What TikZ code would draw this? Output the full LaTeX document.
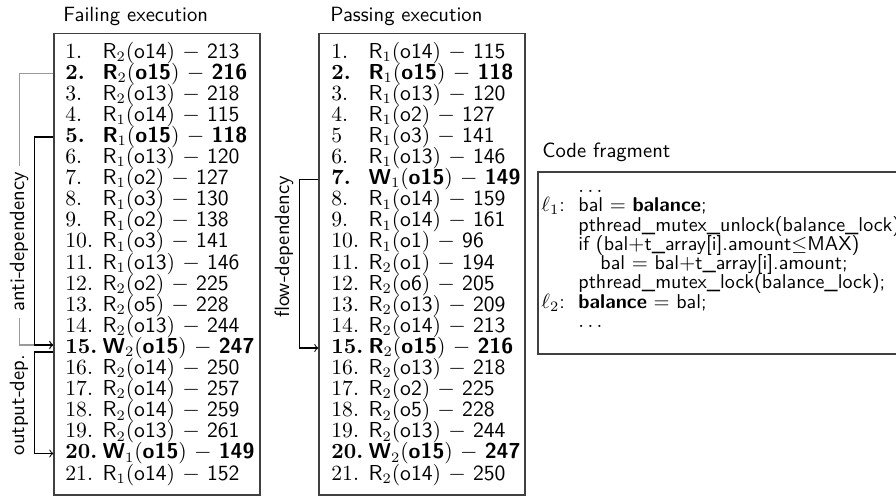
\documentclass[tikz,border=0pt]{standalone}
\usetikzlibrary{calc}

% one line of a trace: number, op, thread, object, value, weight
\newcommand{\evrow}[6]{\makebox[18pt][l]{#6#1}{\sffamily#6#2}$_{#3}$(\textsf{#6#4}) $-$ {\sffamily#6#5}}
\def\px{0.485pt}

\begin{document}
\begin{tikzpicture}[x=\px, y=-\px,
    listbox/.style={draw=black!75, line width=0.6pt},
    rowtext/.style={anchor=base west, inner sep=0pt, font=\fontsize{10.5pt}{12pt}\selectfont},
    headline/.style={anchor=base west, inner sep=0pt, font=\sffamily},
    code/.style={anchor=base west, inner sep=0pt, font=\fontsize{9.7pt}{11pt}\sffamily},
    dep/.style={draw=black, line width=0.5pt},
    antidep/.style={draw=black!40, line width=0.6pt},
    deplabel/.style={rotate=90, font=\sffamily, inner xsep=3pt, inner ysep=1pt}]
  \useasboundingbox (0,0) rectangle (896,498);

  % Failing execution
  \node[headline] (failtitle) at (63,21) {Failing execution};
  \node[listbox, minimum width=206*\px, minimum height=461.5*\px] (failbox) at (157,264.25) {};
  \foreach \nr/\op/\thr/\obj/\val/\fs [count=\i] in {
      1./R/2/o14/213/\mdseries, 2./R/2/o15/216/\bfseries, 3./R/2/o13/218/\mdseries,
      4./R/1/o14/115/\mdseries, 5./R/1/o15/118/\bfseries, 6./R/1/o13/120/\mdseries,
      7./R/1/o2/127/\mdseries, 8./R/1/o3/130/\mdseries, 9./R/1/o2/138/\mdseries,
      10./R/1/o3/141/\mdseries, 11./R/1/o13/146/\mdseries, 12./R/2/o2/225/\mdseries,
      13./R/2/o5/228/\mdseries, 14./R/2/o13/244/\mdseries, 15./W/2/o15/247/\bfseries,
      16./R/2/o14/250/\mdseries, 17./R/2/o14/257/\mdseries, 18./R/2/o14/259/\mdseries,
      19./R/2/o13/261/\mdseries, 20./W/1/o15/149/\bfseries, 21./R/1/o14/152/\mdseries}
    \node[rowtext] (f\i) at (65,{58+21.1*(\i-1)}) {\evrow{\nr}{\op}{\thr}{\obj}{\val}{\fs}};

  % Passing execution
  \node[headline] (passtitle) at (330,21) {Passing execution};
  \node[listbox, minimum width=206*\px, minimum height=461.5*\px] (passbox) at (422,264.25) {};
  \foreach \nr/\op/\thr/\obj/\val/\fs [count=\i] in {
      1./R/1/o14/115/\mdseries, 2./R/1/o15/118/\bfseries, 3./R/1/o13/120/\mdseries,
      4./R/1/o2/127/\mdseries, 5/R/1/o3/141/\mdseries, 6./R/1/o13/146/\mdseries,
      7./W/1/o15/149/\bfseries, 8./R/1/o14/159/\mdseries, 9./R/1/o14/161/\mdseries,
      10./R/1/o1/96/\mdseries, 11./R/2/o1/194/\mdseries, 12./R/2/o6/205/\mdseries,
      13./R/2/o13/209/\mdseries, 14./R/2/o14/213/\mdseries, 15./R/2/o15/216/\bfseries,
      16./R/2/o13/218/\mdseries, 17./R/2/o2/225/\mdseries, 18./R/2/o5/228/\mdseries,
      19./R/2/o13/244/\mdseries, 20./W/2/o15/247/\bfseries, 21./R/2/o14/250/\mdseries}
    \node[rowtext] (p\i) at (331,{58+21.1*(\i-1)}) {\evrow{\nr}{\op}{\thr}{\obj}{\val}{\fs}};

  % anti-dependency (grey line broken by its label)
  \draw[antidep, ->] (failbox.west |- f2) -- ++(-34,0) |- ($(failbox.west |- f15)+(0,-3)$);
  \node[deplabel, fill=white] (antilbl) at (19,242) {anti-dependency};
  \draw[dep, ->] (failbox.west |- f5) -- ++(-19,0) |- ($(failbox.west |- f15)+(0,-3)$);

  % output-dependency
  \draw[dep, ->] ($(failbox.west |- f15)+(0,4)$) -- ++(-19,0) |- (failbox.west |- f20);
  \node[deplabel] (outlbl) at (19,405) {output-dep.};

  % flow-dependency
  \draw[dep, ->] (passbox.west |- p7) -- ++(-19,0) |- (passbox.west |- p15);
  \node[deplabel] (flowlbl) at (284,247) {flow-dependency};

  % Code fragment
  \node[headline] (codetitle) at (542,157) {Code fragment};
  \draw[listbox] (538,172) rectangle (910,354);
  \node[code] (c1) at (578,192) {$\ldots$};
  \node[code] (l1) at (541,211) {$\ell_1$:};
  \node[code] (c2) at (578,211) {bal $=$ \textbf{balance};};
  \node[code] (c3) at (578,231) {pthread\_mutex\_unlock(balance\_lock);};
  \node[code] (c4) at (578,250) {if (bal$+$t\_array[i].amount$\leq$MAX)};
  \node[code] (c5) at (600,269) {bal $=$ bal$+$t\_array[i].amount;};
  \node[code] (c6) at (578,288) {pthread\_mutex\_lock(balance\_lock);};
  \node[code] (l2) at (541,308) {$\ell_2$:};
  \node[code] (c7) at (578,308) {\textbf{balance} $=$ bal;};
  \node[code] (c8) at (578,327) {$\ldots$};
\end{tikzpicture}
\end{document}
